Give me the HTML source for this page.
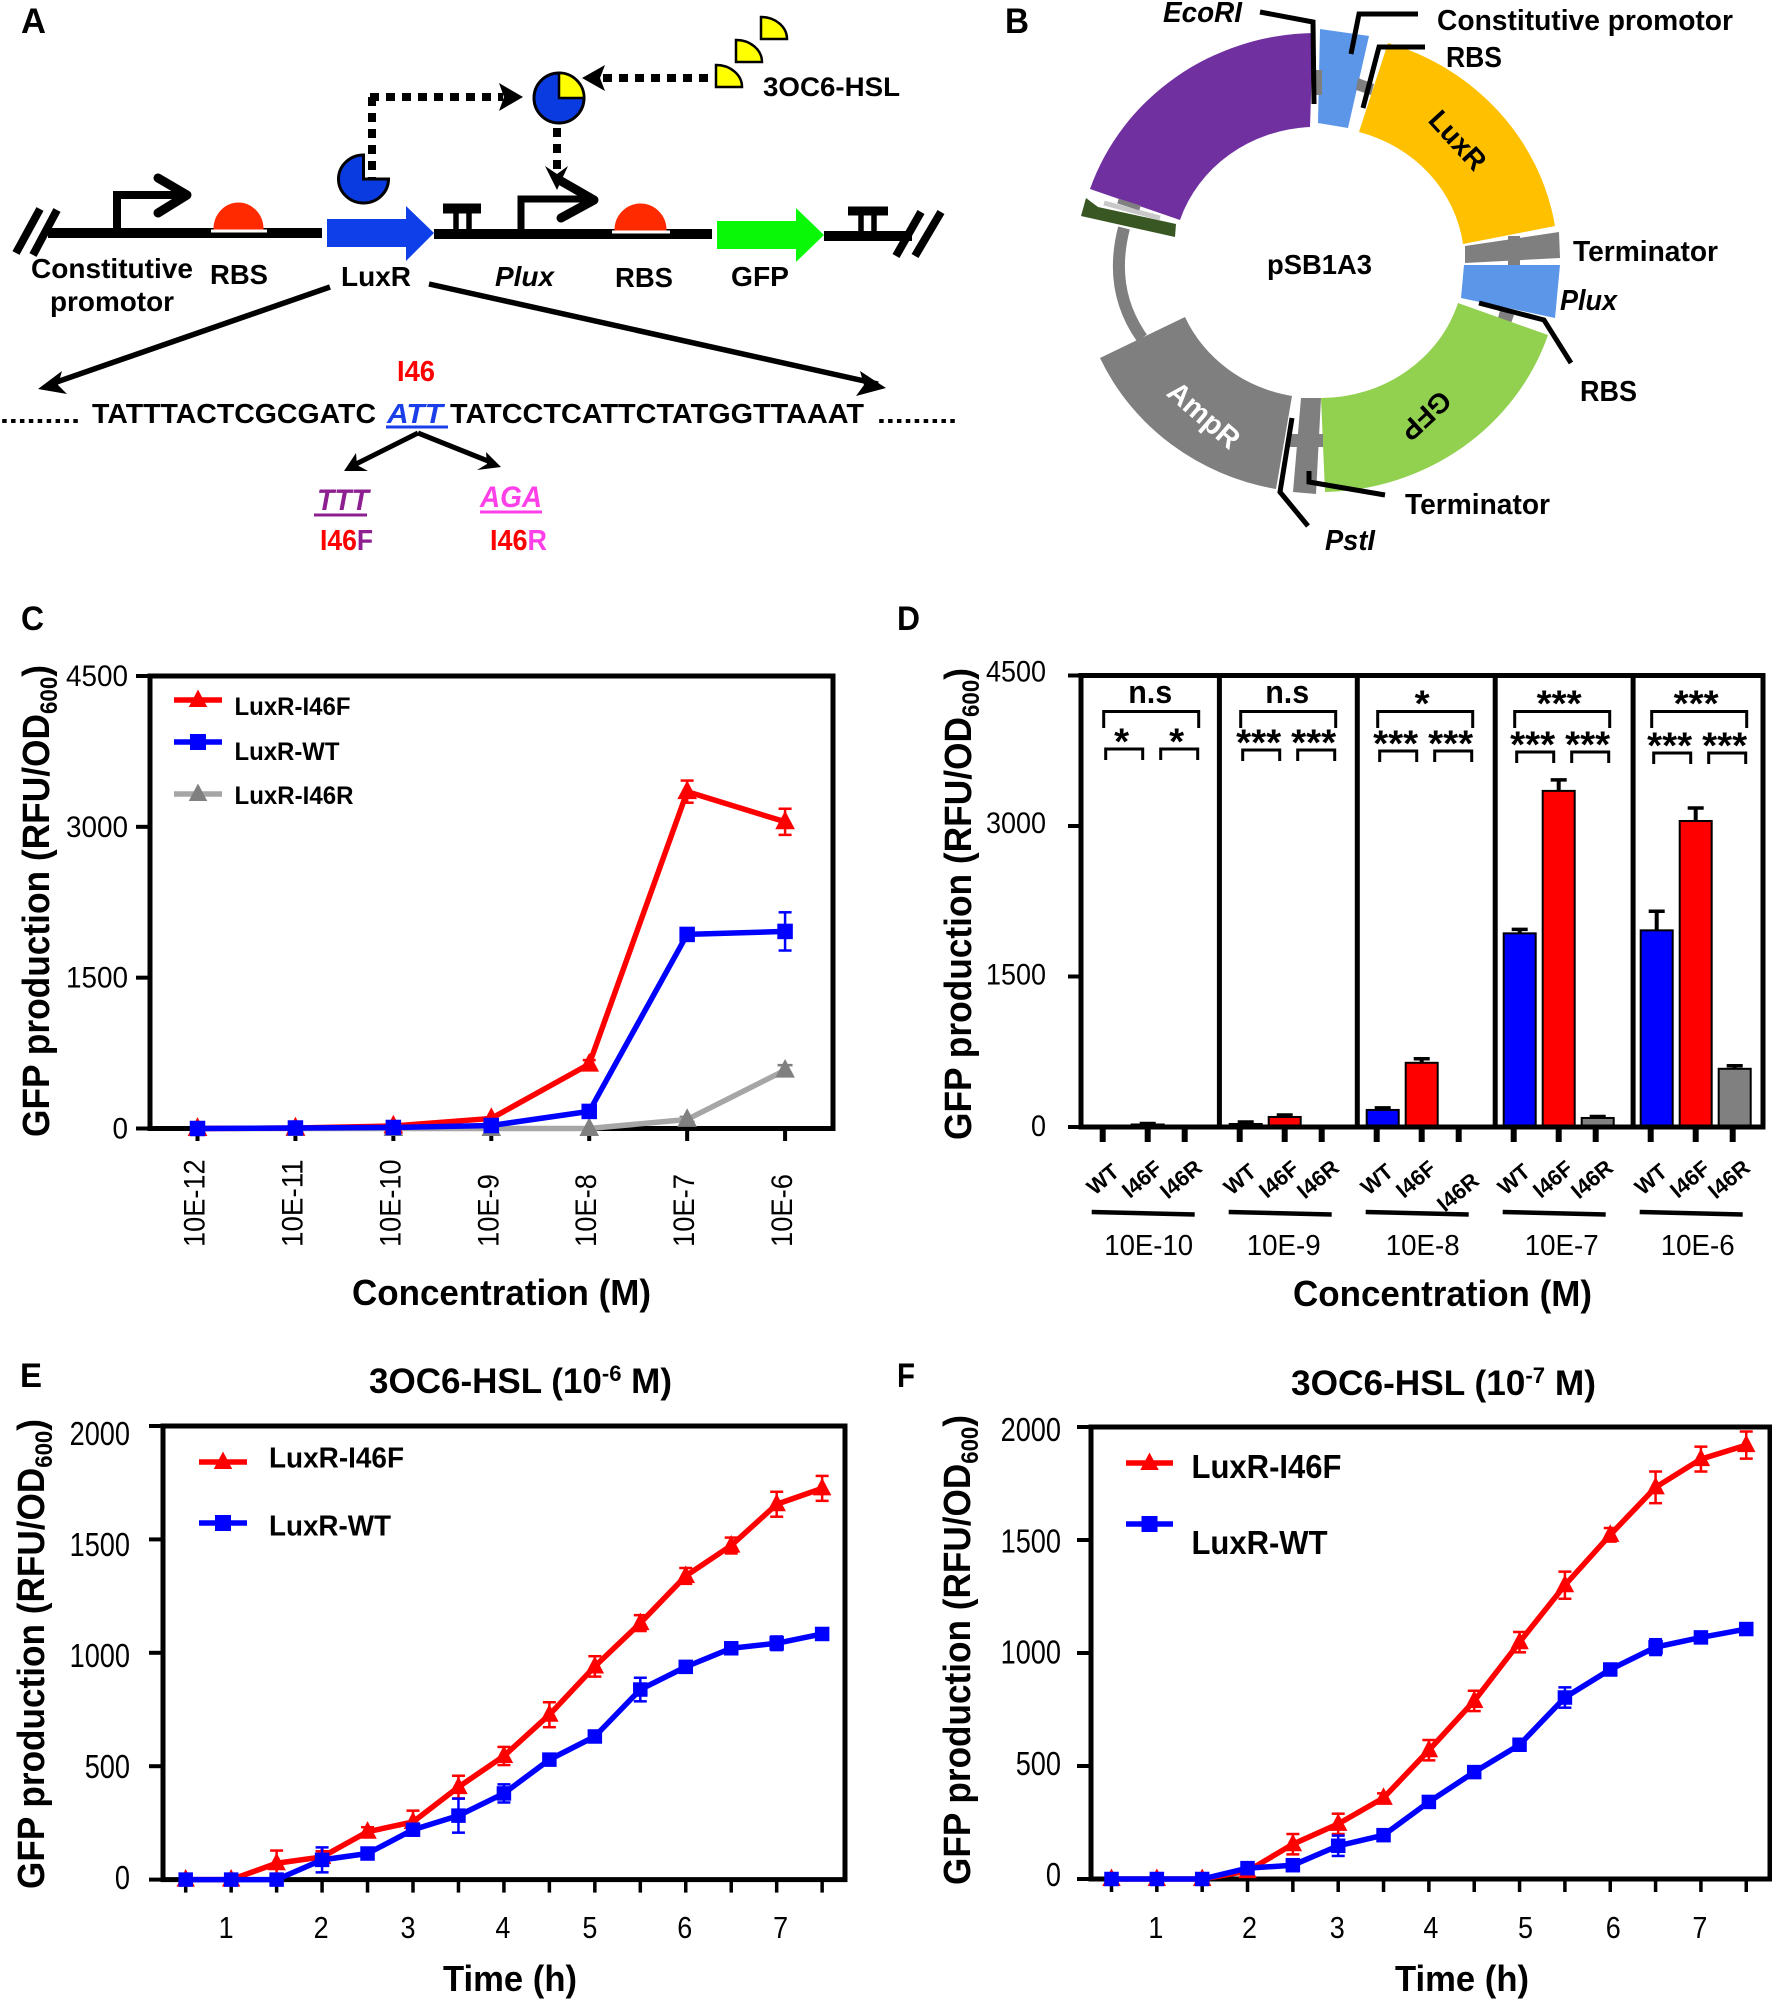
<!DOCTYPE html>
<html lang="en">
<head>
<meta charset="utf-8">
<title>LuxR I46 figure</title>
<style>
html,body{margin:0;padding:0;background:#fff}
svg{display:block}
text{font-family:"Liberation Sans",sans-serif;fill:#000}
.b{font-weight:bold}
.i{font-style:italic}
</style>
</head>
<body>
<svg id="fig" xmlns="http://www.w3.org/2000/svg" width="1772" height="2000" viewBox="0 0 1772 2000">
<rect width="1772" height="2000" fill="#fff"/>

<!-- PANEL A -->
<g>
<text class="b" x="21" y="33" font-size="35" textLength="25">A</text>
<g fill="none" stroke="#000">
<path d="M48 233H322" stroke-width="10"/>
<path d="M434 234H712" stroke-width="10"/>
<path d="M824 236H912" stroke-width="10"/>
<path d="M40 209L16 253M57 210L33 255" stroke-width="8"/>
<path d="M921 212L896 256M941 212L915 256" stroke-width="8"/>
<path d="M117 233V195H185" stroke-width="8"/>
<path d="M158 178L187 195L158 213" stroke-width="9" stroke-linecap="round" stroke-linejoin="round"/>
<path d="M521 234V199H593" stroke-width="7"/>
<path d="M561 181L594 200L561 218" stroke-width="9" stroke-linecap="round" stroke-linejoin="round"/>
<path d="M456 210V232M469 210V232" stroke-width="5.500"/>
<path d="M443 208.500H481" stroke-width="10"/>
<path d="M861 212V234M874 212V234" stroke-width="5.500"/>
<path d="M848 211H888" stroke-width="9"/>
</g>
<path d="M214 229A24.500 26 0 0 1 263 229Z" fill="#ff2a00" stroke="#ff2a00"/>
<path d="M211 231H267" stroke="#fff" stroke-width="3"/>
<path d="M615 230A25.500 26 0 0 1 666 230Z" fill="#ff2a00" stroke="#ff2a00"/>
<path d="M612 232H670" stroke="#fff" stroke-width="3"/>
<path d="M327 219H406V206L434 233L406 261V247H327Z" fill="#0f3fe8"/>
<path d="M717 221H796V208L824 235L796 262V249H717Z" fill="#08f808"/>
<path d="M363.500 155A25 24 0 1 0 388.500 179H363.500Z" fill="#0a3be0" stroke="#000" stroke-width="3"/>
<circle cx="559" cy="98" r="25" fill="#0a3be0" stroke="#000" stroke-width="3"/>
<path d="M559 98V73A25 25 0 0 1 584 98Z" fill="#ffff00" stroke="#000" stroke-width="2.500"/>
<path d="M370 97H503M372 97V178" fill="none" stroke="#000" stroke-width="8" stroke-dasharray="9 7"/>
<path d="M499 83L523 97L499 111L504 97Z" fill="#000"/>
<path d="M557 128V170" fill="none" stroke="#000" stroke-width="8" stroke-dasharray="9 7"/>
<path d="M545 166L557 190L568 166L557 174Z" fill="#000"/>
<path d="M708 78H603" fill="none" stroke="#000" stroke-width="8" stroke-dasharray="9 7"/>
<path d="M605 65L582 78L605 91L600 78Z" fill="#000"/>
<g fill="#ffff00" stroke="#000" stroke-width="2.500">
<path d="M716 87V65A26 22 0 0 1 742 87Z"/>
<path d="M736 62V40A26 22 0 0 1 762 62Z"/>
<path d="M761 39V17A26 22 0 0 1 787 39Z"/>
</g>
<text class="b" x="763" y="96" font-size="27" textLength="137">3OC6-HSL</text>
<text class="b" x="31" y="278" font-size="28" textLength="162">Constitutive</text>
<text class="b" x="50" y="311" font-size="28" textLength="124">promotor</text>
<text class="b" x="210" y="284" font-size="28" textLength="58">RBS</text>
<text class="b" x="341" y="286" font-size="28" textLength="70">LuxR</text>
<text class="b i" x="495" y="286" font-size="28" textLength="59">Plux</text>
<text class="b" x="615" y="287" font-size="28" textLength="58">RBS</text>
<text class="b" x="731" y="286" font-size="28" textLength="58">GFP</text>
<g fill="none" stroke="#000" stroke-width="5.500">
<path d="M330 287L48 385"/>
<path d="M429 284L878 384"/>
<path d="M418 433L352 466" stroke-width="5"/>
<path d="M418 433L493 463" stroke-width="5"/>
</g>
<path d="M38 389L62 371L58 385L67 394Z" fill="#000"/>
<path d="M886 388L860 371L864 385L856 396Z" fill="#000"/>
<path d="M344 471L356 453L357 465L368 471Z" fill="#000"/>
<path d="M501 467L486 452L487 464L477 470Z" fill="#000"/>
<text class="b" x="397" y="381" font-size="29" style="fill:#ff0000" textLength="38">I46</text>
<text class="b" x="0" y="423" font-size="27" textLength="80">.........</text>
<text class="b" x="92" y="423" font-size="28" textLength="284">TATTTACTCGCGATC</text>
<text class="b i" x="387" y="423" font-size="28" style="fill:#1a3fe8" textLength="56">ATT</text>
<path d="M386 427H448" stroke="#1a3fe8" stroke-width="3"/>
<text class="b" x="450" y="423" font-size="28" textLength="414">TATCCTCATTCTATGGTTAAAT</text>
<text class="b" x="877" y="423" font-size="27" textLength="80">.........</text>
<text class="b i" x="317" y="510" font-size="30" style="fill:#8e1f91" textLength="52">TTT</text>
<path d="M314 515H367" stroke="#8e1f91" stroke-width="3"/>
<text class="b i" x="480" y="507" font-size="30" style="fill:#ff40e8" textLength="62">AGA</text>
<path d="M480 512H542" stroke="#ff40e8" stroke-width="3"/>
<text class="b" x="320" y="550" font-size="29" style="fill:#ff0000" textLength="53">I46<tspan style="fill:#8e1f91">F</tspan></text>
<text class="b" x="490" y="550" font-size="29" style="fill:#ff0000" textLength="57">I46<tspan style="fill:#ff40e8">R</tspan></text>
</g>

<!-- PANEL B -->
<g>
<text class="b" x="1005" y="33" font-size="35" textLength="24">B</text>
<path d="M1124 228Q1108 290 1142 338" fill="none" stroke="#7f7f7f" stroke-width="12"/>
<path d="M1090 189A240 230 0 0 1 1313 33L1310 127A144 135 0 0 0 1180 220Z" fill="#7030a0"/>
<path d="M1320 29L1369 36L1348 128L1318 123Z" fill="#5b96e8"/>
<path d="M1314 70H1322V95H1314ZM1358 78L1374 84L1371 95L1356 90Z" fill="#7f7f7f"/>
<path d="M1388 43A240 230 0 0 1 1555 226L1463 244A144 135 0 0 0 1359 132Z" fill="#ffc000"/>
<path d="M1465 246L1559 232L1560 258L1465 263Z" fill="#7f7f7f"/>
<path d="M1508 236H1520V268H1508Z" fill="#7f7f7f"/>
<path d="M1464 265H1560L1555 318L1461 298Z" fill="#5b96e8"/>
<path d="M1500 310L1514 315L1510 326L1497 322Z" fill="#7f7f7f"/>
<path d="M1548 335A240 230 0 0 1 1325 492L1321 398A144 135 0 0 0 1458 303Z" fill="#92d050"/>
<path d="M1301 398H1321L1316 494L1293 492Z" fill="#7f7f7f"/>
<path d="M1287 434H1323V447H1287Z" fill="#7f7f7f"/>
<path d="M1100 358L1185 317A144 135 0 0 0 1292 396L1276 489A240 230 0 0 1 1100 358Z" fill="#7f7f7f"/>
<path d="M1086 198L1081 216L1175 237L1176 224L1098 207Z" fill="#385723"/>
<path d="M1104 203L1160 218" stroke="#c8c8c8" stroke-width="5"/>
<path d="M1118 201L1140 208" stroke="#7f7f7f" stroke-width="5"/>
<g fill="none" stroke="#000" stroke-width="5">
<path d="M1260 12L1313 22L1314 104"/>
<path d="M1418 14H1359L1351 54"/>
<path d="M1425 47H1379L1363 108"/>
<path d="M1479 303L1544 320L1571 363"/>
<path d="M1309 471V482L1385 495"/>
<path d="M1292 418L1280 492L1308 526"/>
</g>
<text class="b i" x="1163" y="22" font-size="29" textLength="79">EcoRI</text>
<text class="b" x="1437" y="30" font-size="29" textLength="296">Constitutive promotor</text>
<text class="b" x="1446" y="67" font-size="29" textLength="56">RBS</text>
<text class="b" x="1573" y="261" font-size="29" textLength="145">Terminator</text>
<text class="b i" x="1560" y="310" font-size="29" textLength="57">Plux</text>
<text class="b" x="1580" y="401" font-size="29" textLength="57">RBS</text>
<text class="b" x="1267" y="274" font-size="28" textLength="105">pSB1A3</text>
<text class="b" x="1405" y="514" font-size="29" textLength="145">Terminator</text>
<text class="b i" x="1325" y="550" font-size="29" textLength="50">PstI</text>
<text class="b" transform="translate(1458,140) rotate(47.500)" y="10" font-size="28" text-anchor="middle">LuxR</text>
<text class="b" transform="translate(1204,415) rotate(41)" y="10" font-size="29" text-anchor="middle" style="fill:#fff">AmpR</text>
<text class="b" transform="translate(1426,416) rotate(137)" y="10" font-size="28" text-anchor="middle">GFP</text>
</g>

<!-- Static chart titles -->
<g>
<text class="b" x="21" y="630" font-size="34" textLength="23">C</text>
<text class="b" x="897" y="630" font-size="34" textLength="23">D</text>
<text class="b" x="20" y="1387" font-size="34" textLength="22">E</text>
<text class="b" x="897" y="1387" font-size="34" textLength="18">F</text>

<text class="b" transform="translate(49,1137) rotate(-90)" font-size="38" textLength="472">GFP production (RFU/OD<tspan font-size="24" dy="8">600</tspan><tspan dy="-8">)</tspan></text>
<text class="b" transform="translate(971,1140) rotate(-90)" font-size="38" textLength="472">GFP production (RFU/OD<tspan font-size="24" dy="8">600</tspan><tspan dy="-8">)</tspan></text>
<text class="b" transform="translate(44,1889) rotate(-90)" font-size="38" textLength="470">GFP production (RFU/OD<tspan font-size="24" dy="8">600</tspan><tspan dy="-8">)</tspan></text>
<text class="b" transform="translate(970,1885) rotate(-90)" font-size="38" textLength="470">GFP production (RFU/OD<tspan font-size="24" dy="8">600</tspan><tspan dy="-8">)</tspan></text>

<text class="b" x="352" y="1305" font-size="36" textLength="299">Concentration (M)</text>
<text class="b" x="1293" y="1306" font-size="36" textLength="299">Concentration (M)</text>
<text class="b" x="443" y="1991" font-size="36" textLength="134">Time (h)</text>
<text class="b" x="1395" y="1991" font-size="36" textLength="134">Time (h)</text>

<text class="b" x="369" y="1393" font-size="35" textLength="303">3OC6-HSL (10<tspan font-size="22" dy="-12">-6</tspan><tspan dy="12"> M)</tspan></text>
<text class="b" x="1291" y="1395" font-size="35" textLength="305">3OC6-HSL (10<tspan font-size="22" dy="-12">-7</tspan><tspan dy="12"> M)</tspan></text>
</g>
<g id="charts"></g>
</svg>

<script>
// ---------- Panel C data ----------
const cCategories = ['10E-12','10E-11','10E-10','10E-9','10E-8','10E-7','10E-6'];
const cYTicks = [0,1500,3000,4500];
const cI46F = [0,5,25,100,640,3350,3050];
const cI46FErr = [0,0,0,10,40,110,130];
const cWT = [0,5,10,30,170,1930,1960];
const cWTErr = [0,0,0,5,15,40,190];
const cI46R = [0,0,0,0,0,90,580];
const cI46RErr = [0,0,0,0,0,25,50];

// ---------- Panel D data ----------
const dGroups = ['10E-10','10E-9','10E-8','10E-7','10E-6'];
const dBarNames = ['WT','I46F','I46R'];
const dYTicks = [0,1500,3000,4500];
const dWT = [0,30,170,1930,1960];
const dWTErr = [0,20,20,40,190];
const dI46F = [25,100,640,3350,3050];
const dI46FErr = [10,20,40,110,130];
const dI46R = [0,0,0,90,580];
const dI46RErr = [0,0,0,15,30];
const dTopSignif = ['n.s','n.s','*','***','***'];
const dLowSignif = ['*','***','***','***','***'];

// ---------- Panel E data ----------
const eTimes = [0.5,1,1.5,2,2.5,3,3.5,4,4.5,5,5.5,6,6.5,7,7.5];
const eXTicks = [1,2,3,4,5,6,7];
const eYTicks = [0,500,1000,1500,2000];
const eI46F = [0,0,72,100,211,254,408,545,727,940,1131,1339,1473,1655,1725];
const eI46FErr = [0,0,56,25,20,50,50,40,55,45,35,35,35,55,55];
const eWT = [0,0,0,87,115,220,282,380,529,631,838,938,1020,1042,1083];
const eWTErr = [0,0,0,55,15,20,75,40,20,10,52,15,15,30,10];

// ---------- Panel F data ----------
const fTimes = [0.5,1,1.5,2,2.5,3,3.5,4,4.5,5,5.5,6,6.5,7,7.5];
const fXTicks = [1,2,3,4,5,6,7];
const fYTicks = [0,500,1000,1500,2000];
const fI46F = [0,0,0,35,154,244,359,570,788,1048,1300,1523,1733,1858,1920];
const fI46FErr = [0,0,0,25,45,45,20,45,45,45,60,30,70,55,60];
const fWT = [0,0,0,48,61,147,194,341,473,594,803,927,1026,1069,1106];
const fWTErr = [0,0,0,5,10,45,10,10,10,10,45,15,35,10,10];

const RED = '#ff0000', BLUE = '#0000ff', GRAY = '#808080', LGRAY = '#a6a6a6';
const NS = 'http://www.w3.org/2000/svg';
const root = document.getElementById('charts');

function el(tag, attrs, parent, name) {
  const e = document.createElementNS(NS, tag);
  for (const k in attrs) e.setAttribute(k, attrs[k]);
  
  
  parent.appendChild(e);
  return e;
}
function txt(str, attrs, parent, name) {
  const e = el('text', attrs, parent, name);
  e.textContent = str;
  return e;
}
function line(x1, y1, x2, y2, color, w, parent, name) {
  return el('line', {x1, y1, x2, y2, stroke: color, 'stroke-width': w}, parent, name);
}
function marker(kind, x, y, s, color, parent, name) {
  if (kind === 'square') {
    return el('rect', {x: x - s / 2, y: y - s / 2, width: s, height: s, fill: color}, parent, name);
  }
  const h = s * 0.55;
  return el('path', {d: `M${x} ${y - h * 1.2}L${x - h * 1.05} ${y + h * 0.8}H${x + h * 1.05}Z`, fill: color}, parent, name);
}
function drawSeries(g, xs, vals, errs, xFn, yFn, color, kind, size, lw, capW, lineColor, seriesName) {
  vals.forEach((v, i) => {
    if (errs[i] > 0) {
      const x = xFn(xs[i]);
      line(x, yFn(v + errs[i]), x, yFn(v - errs[i]), color, 2.5, g, seriesName + '-error-bar');
      line(x - capW / 2, yFn(v + errs[i]), x + capW / 2, yFn(v + errs[i]), color, 2.5, g, seriesName + '-error-cap');
      line(x - capW / 2, yFn(v - errs[i]), x + capW / 2, yFn(v - errs[i]), color, 2.5, g, seriesName + '-error-cap');
    }
  });
  const pts = vals.map((v, i) => xFn(xs[i]) + ',' + yFn(v)).join(' ');
  el('polyline', {points: pts, fill: 'none', stroke: lineColor || color, 'stroke-width': lw, 'stroke-linejoin': 'round'}, g, seriesName + '-line');
  vals.forEach((v, i) => marker(kind, xFn(xs[i]), yFn(v), size, color, g, seriesName + '-point'));
}
function legendEntry(g, x1, x2, y, color, lineColor, kind, label, tx, ty, tw, fs, name) {
  line(x1, y, x2, y, lineColor || color, 5.5, g, name + '-line');
  marker(kind, (x1 + x2) / 2, y, 16, color, g, name + '-marker');
  txt(label, {class: 'b', x: tx, y: ty, 'font-size': fs, textLength: tw}, g, name + '-label');
}
function frame(g, l, t, r, b, name) {
  el('rect', {x: l, y: t, width: r - l, height: b - t, fill: 'none', stroke: '#000', 'stroke-width': 5}, g, name + '-frame');
}

// ---------- Panel C ----------
(function () {
  const g = el('g', {}, root, 'chart-c');
  const L = 150, R = 833, T = 676, B = 1128.5;
  const xC = i => 197.5 + i * 97.93;
  const yC = v => B - v * (B - T) / 4500;
  const idx = cCategories.map((_, i) => i);
  frame(g, L, T, R, B, 'c-plot');
  cYTicks.forEach(v => {
    line(136, yC(v), L, yC(v), '#000', 4, g, 'c-y-tick');
    txt(String(v), {x: 128, y: yC(v) + 10, 'font-size': 30, 'text-anchor': 'end', textLength: 15.5 * String(v).length}, g, 'c-y-tick-label');
  });
  cCategories.forEach((c, i) => {
    line(xC(i), B, xC(i), 1141, '#000', 4, g, 'c-x-tick');
    txt(c, {transform: `translate(${xC(i) + 7},1247) rotate(-90)`, 'font-size': 30, textLength: 14.6 * c.length}, g, 'c-x-tick-label');
  });
  drawSeries(g, idx, cI46R, cI46RErr, xC, yC, GRAY, 'triangle', 17, 5.5, 15, LGRAY, 'c-i46r');
  drawSeries(g, idx, cI46F, cI46FErr, xC, yC, RED, 'triangle', 17, 5.5, 13, null, 'c-i46f');
  drawSeries(g, idx, cWT, cWTErr, xC, yC, BLUE, 'square', 15.5, 5.5, 13, null, 'c-wt');
  legendEntry(g, 174, 222, 700, RED, null, 'triangle', 'LuxR-I46F', 234.5, 715, 116, 25, 'c-legend-i46f');
  legendEntry(g, 174, 222, 742, BLUE, null, 'square', 'LuxR-WT', 234.5, 760, 105, 25, 'c-legend-wt');
  legendEntry(g, 174, 222, 794, GRAY, LGRAY, 'triangle', 'LuxR-I46R', 234.5, 804, 119, 25, 'c-legend-i46r');
})();

// ---------- Panel D ----------
(function () {
  const g = el('g', {}, root, 'chart-d');
  const L = 1081, R = 1763, T = 675.5, B = 1127;
  const yD = v => B - v * (B - T) / 4500;
  const xD = (gi, bi) => 1108.7 + gi * 137 + bi * 39;
  const series = [[dWT, dWTErr, BLUE], [dI46F, dI46FErr, RED], [dI46R, dI46RErr, GRAY]];
  const tickShift = [-6, 0, -2];
  const groupLabelShift = [2, 0, 2, 4, 3];
  dYTicks.forEach(v => {
    line(1068, yD(v), L, yD(v), '#000', 4, g, 'd-y-tick');
    txt(String(v), {x: 1046, y: yD(v) + 6 + (4500 - v) / 4500 * 3, 'font-size': 30, 'text-anchor': 'end', textLength: 15 * String(v).length}, g, 'd-y-tick-label');
  });
  dGroups.forEach((name, gi) => {
    series.forEach((s, bi) => {
      const cx = xD(gi, bi), v = s[0][gi], e = s[1][gi];
      if (e > 0) {
        line(cx, yD(v), cx, yD(v + e), '#000', 4, g, 'd-error-bar');
        line(cx - 8, yD(v + e), cx + 8, yD(v + e), '#000', 3.5, g, 'd-error-cap');
      }
      el('rect', {x: cx - 16, y: yD(v), width: 32, height: yD(0) - yD(v), fill: s[2], stroke: '#000', 'stroke-width': 2}, g, 'd-bar-' + dBarNames[bi].toLowerCase());
      line(cx + tickShift[bi], B, cx + tickShift[bi], 1142, '#000', 6, g, 'd-x-tick');
      const low = gi === 2 && bi === 2;
      txt(dBarNames[bi], {class: 'b', transform: `translate(${cx - 1 + (low ? 3 : 0)},${1185 + (low ? 13 : 0)}) rotate(-40)`, 'font-size': 22, 'text-anchor': 'middle'}, g, 'd-bar-label');
    });
    const x0 = xD(gi, 0);
    // group underline and label
    line(x0 - 17, 1212, x0 + 86, 1214.5, '#000', 4.5, g, 'd-group-underline');
    txt(name, {x: x0 + 38 + groupLabelShift[gi], y: 1255, 'font-size': 29, 'text-anchor': 'middle', textLength: name.length * 14.8}, g, 'd-group-label');
    // significance brackets
    const topL = x0 - 5, topR = x0 + 90;
    el('path', {d: `M${topL} 728V711.5H${topR}V728`, fill: 'none', stroke: '#000', 'stroke-width': 3}, g, 'd-bracket-top');
    const ly = 749 + gi;
    el('path', {d: `M${x0 - 3} ${ly + 11}V${ly}H${x0 + 34}V${ly + 11}`, fill: 'none', stroke: '#000', 'stroke-width': 3}, g, 'd-bracket-low-left');
    el('path', {d: `M${x0 + 52} ${ly + 11}V${ly}H${x0 + 89}V${ly + 11}`, fill: 'none', stroke: '#000', 'stroke-width': 3}, g, 'd-bracket-low-right');
    const top = dTopSignif[gi];
    if (top === 'n.s') {
      txt(top, {class: 'b', x: (topL + topR) / 2 - 1, y: 703, 'font-size': 32, 'text-anchor': 'middle', textLength: 44}, g, 'd-signif-top');
    } else {
      txt(top, {class: 'b', x: (topL + topR) / 2 - 3, y: 716, 'font-size': 37, 'text-anchor': 'middle', textLength: top.length * 15}, g, 'd-signif-top');
    }
    const low = dLowSignif[gi];
    txt(low, {class: 'b', x: x0 + 13, y: ly + 5, 'font-size': 37, 'text-anchor': 'middle', textLength: low.length * 15}, g, 'd-signif-low-left');
    txt(low, {class: 'b', x: x0 + 68, y: ly + 5, 'font-size': 37, 'text-anchor': 'middle', textLength: low.length * 15}, g, 'd-signif-low-right');
  });
  frame(g, L, T, R, B, 'd-plot');
  [1, 2, 3, 4].forEach(i => {
    line(L + i * 137.9 + 0.5, T, L + i * 137.9 + 0.5, B, '#000', 5, g, 'd-group-divider');
  });
})();

// ---------- Panels E & F ----------
function timeChart(prefix, times, xTicks, yTicks, i46f, i46fErr, wt, wtErr, o) {
  const g = el('g', {}, root, 'chart-' + prefix);
  const x = t => o.x0 + (t - 0.5) * o.dx;
  const y = v => o.B - v * (o.B - o.T) / 2000;
  frame(g, o.L, o.T, o.R, o.B, prefix + '-plot');
  yTicks.forEach(v => {
    line(o.L - 14, y(v), o.L, y(v), '#000', 4, g, prefix + '-y-tick');
    const s = String(v);
    txt(s, {x: o.labelR, y: y(v) + o.lbl0 + v / 2000 * o.lbl1, 'font-size': 33, 'text-anchor': 'end', textLength: 15.1 * s.length}, g, prefix + '-y-tick-label');
  });
  times.forEach(t => line(x(t), o.B, x(t), o.B + 13, '#000', 3.5, g, prefix + '-x-tick'));
  xTicks.forEach((t, i) => {
    txt(String(t), {x: x(t) + o.tickNudge[i], y: 1938, 'font-size': 31, 'text-anchor': 'middle', textLength: 15}, g, prefix + '-x-tick-label');
  });
  drawSeries(g, times, i46f, i46fErr, x, y, RED, 'triangle', 16, 5.5, 13, null, prefix + '-i46f');
  drawSeries(g, times, wt, wtErr, x, y, BLUE, 'square', 14.5, 5.5, 13, null, prefix + '-wt');
  legendEntry(g, o.legL, o.legR, o.legY1, RED, null, 'triangle', 'LuxR-I46F', o.legT, o.legB1, o.legW1, o.legFs, prefix + '-legend-i46f');
  legendEntry(g, o.legL, o.legR, o.legY2, BLUE, null, 'square', 'LuxR-WT', o.legT, o.legB2, o.legW2, o.legFs, prefix + '-legend-wt');
}
timeChart('e', eTimes, eXTicks, eYTicks, eI46F, eI46FErr, eWT, eWTErr, {
  x0: 185.7, dx: 90.92, L: 163, R: 845, T: 1426, B: 1879.6, labelR: 130, lbl0: 9.5, lbl1: 9.5,
  tickNudge: [-5, -1, -5, -1, -5, -1, 4],
  legL: 199, legR: 247, legY1: 1462, legY2: 1523, legT: 269, legB1: 1467.5, legB2: 1535.5, legW1: 135, legW2: 122, legFs: 29
});
timeChart('f', fTimes, fXTicks, fYTicks, fI46F, fI46FErr, fWT, fWTErr, {
  x0: 1111.5, dx: 90.68, L: 1091, R: 1770, T: 1427, B: 1879, labelR: 1061, lbl0: 7, lbl1: 7,
  tickNudge: [-1, 2, -1, 2, 6, 3, -1],
  legL: 1126, legR: 1173, legY1: 1463, legY2: 1524, legT: 1191.5, legB1: 1478, legB2: 1554, legW1: 150, legW2: 136, legFs: 33
});

document.querySelectorAll('text[textLength]').forEach(t => t.setAttribute('lengthAdjust', 'spacingAndGlyphs'));
</script>
</body>
</html>
